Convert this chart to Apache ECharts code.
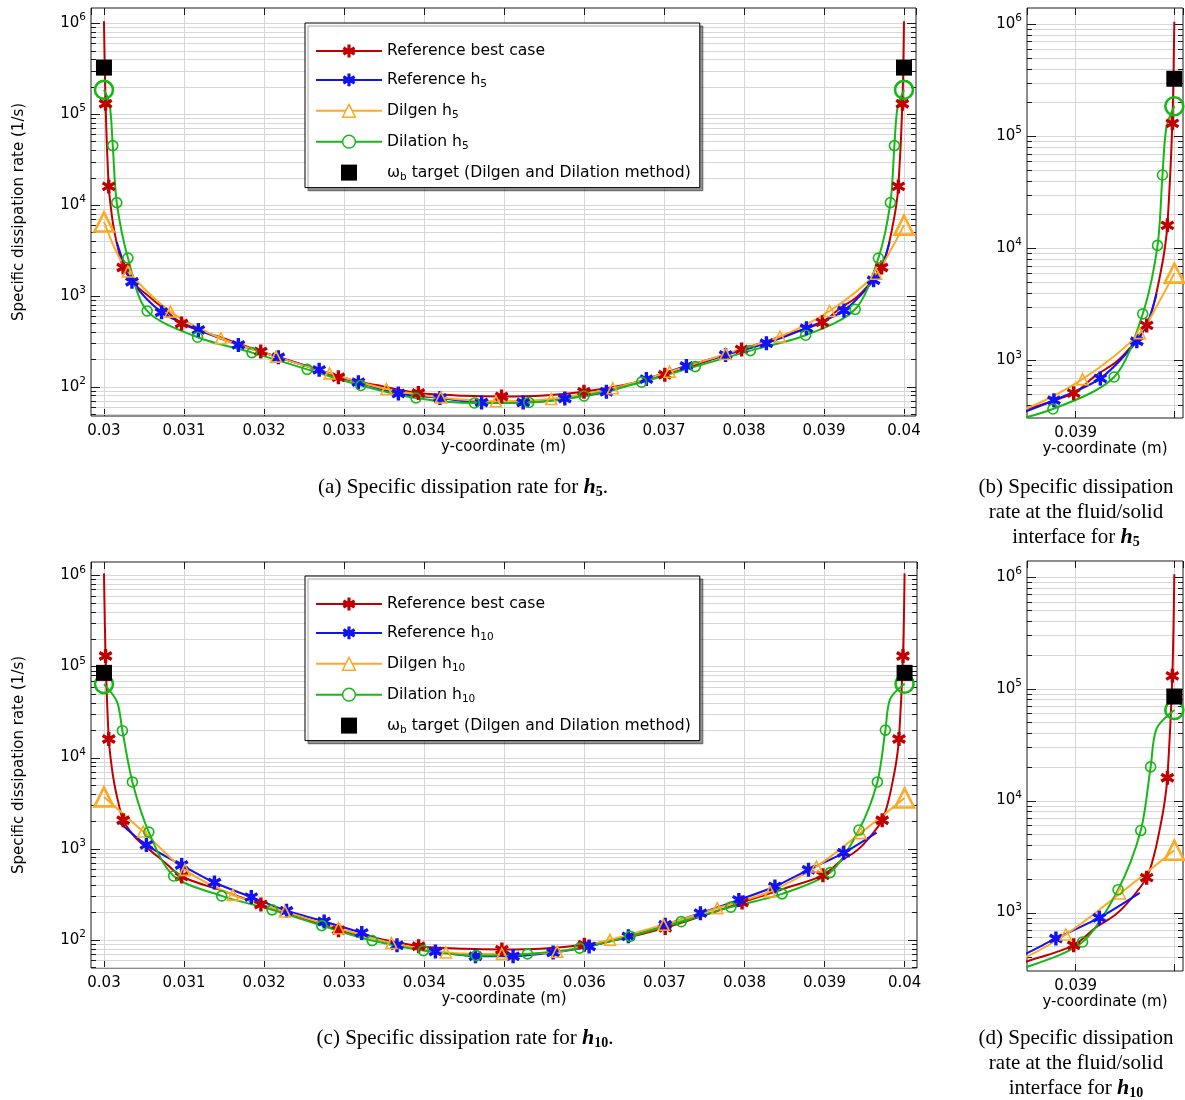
<!DOCTYPE html>
<html>
<head>
<meta charset="utf-8">
<script src="https://cdn.jsdelivr.net/npm/echarts@6/dist/echarts.min.js"></script>
<style>
  html, body { margin: 0; padding: 0; background: #fff; }
  #chart { width: 1185px; height: 1100px; }
</style>
</head>
<body>
<div id="chart"></div>
<script>
// ---- data: [y-coordinate (m), specific dissipation rate (1/s)] ----

// Reference best case (same wall-resolved solution in both rows)
const REF_BEST_MARKS = [
  [0.03002, 1.3e5], [0.03006, 1.6e4], [0.03024, 2.05e3], [0.03097, 495], [0.03196, 244],
  [0.03293, 127], [0.03393, 85], [0.03497, 78], [0.03600, 88], [0.03701, 135],
  [0.03797, 257], [0.03898, 510], [0.03972, 2.05e3], [0.03993, 1.6e4], [0.03998, 1.3e5]
];
const REF_BEST_PATH = [
  [0.03, 1.05e6], [0.03010, 7.5e3], [0.03014, 4.6e3], [0.03018, 3.2e3], [0.0304, 1.3e3],
  [0.03057, 970], [0.03075, 720], [0.0315, 340], [0.0325, 172], [0.0334, 104], [0.0345, 79.5],
  [0.0355, 80], [0.0365, 104], [0.0375, 186], [0.0385, 365], [0.0392, 730], [0.0394, 950],
  [0.03955, 1.29e3], [0.03980, 3.4e3], [0.03986, 6.0e3], [0.03990, 9.5e3], [0.04, 1.05e6]
];

// h5 mesh
const REF_H5_MARKS = [
  [0.03035, 1.43e3], [0.03072, 660], [0.03118, 421], [0.03168, 288], [0.03218, 211],
  [0.03269, 153], [0.03318, 112], [0.03368, 84], [0.03420, 75], [0.03472, 67],
  [0.03524, 67], [0.03576, 74], [0.03628, 88], [0.03678, 121], [0.03728, 169],
  [0.03777, 223], [0.03828, 300], [0.03878, 440], [0.03925, 690], [0.03962, 1.48e3]
];
const REF_H5_PATH = [[0.03016, 3.9e3], [0.03024, 2.4e3], [0.03974, 2.3e3], [0.03982, 3.9e3]];

const DILGEN_H5_MARKS = [
  [0.03, 6.5e3], [0.0303, 1.85e3], [0.03083, 670], [0.03146, 341], [0.03215, 214],
  [0.03282, 140], [0.03353, 94], [0.03421, 76], [0.0349, 69], [0.03559, 73],
  [0.03636, 96], [0.03707, 146], [0.03777, 229], [0.03845, 355], [0.03907, 680],
  [0.03965, 1.75e3], [0.04, 6.0e3]
];
const DILGEN_H5_PATH = [[0.03015, 3.1e3], [0.03986, 3.5e3]];

const DILATION_H5_MARKS = [
  [0.03, 1.85e5], [0.03011, 4.5e4], [0.03016, 1.06e4], [0.0303, 2.6e3], [0.03054, 681],
  [0.03117, 350], [0.03185, 237], [0.03254, 155], [0.03321, 103], [0.0339, 75],
  [0.03463, 66], [0.03531, 67], [0.036, 79], [0.03672, 112], [0.03739, 166],
  [0.03808, 249], [0.03877, 368], [0.03939, 710], [0.03968, 2.6e3], [0.03983, 1.06e4],
  [0.03988, 4.5e4], [0.04, 1.85e5]
];
const DILATION_H5_PATH = [[0.03007, 1.3e5], [0.03992, 1.2e5]];

const TARGET_H5 = [[0.03, 3.25e5], [0.04, 3.25e5]];

// h10 mesh
const REF_H10_MARKS = [
  [0.03053, 1.1e3], [0.03097, 661], [0.03138, 425], [0.03184, 294], [0.03228, 208],
  [0.03275, 159], [0.03322, 119], [0.03366, 87], [0.03414, 74.5], [0.03464, 66],
  [0.03511, 66], [0.03561, 72.6], [0.03606, 84.5], [0.03655, 109], [0.03701, 146],
  [0.03745, 196], [0.03793, 274], [0.03838, 384], [0.0388, 587], [0.03924, 900]
];
const REF_H10_PATH = [[0.030175, 2.0e3], [0.03965, 1.5e3]];

const DILGEN_H10_MARKS = [
  [0.03, 3.7e3], [0.03049, 1.54e3], [0.03101, 585], [0.03161, 311], [0.03226, 204],
  [0.03293, 134], [0.03359, 92], [0.03427, 72.6], [0.03497, 70], [0.03566, 74],
  [0.03632, 100], [0.03699, 146], [0.03766, 222], [0.03832, 339], [0.0389, 637],
  [0.03945, 1.48e3], [0.04, 3.6e3]
];
const DILGEN_H10_PATH = [];

const DILATION_H10_MARKS = [
  [0.03, 6.4e4], [0.03023, 1.97e4], [0.030355, 5.4e3], [0.03056, 1.52e3], [0.03087, 502],
  [0.03147, 303], [0.0321, 213], [0.03272, 143], [0.03335, 98], [0.03399, 76],
  [0.03465, 67], [0.03529, 70], [0.03594, 81], [0.03657, 109], [0.03721, 158],
  [0.03783, 228], [0.03847, 319], [0.03907, 546], [0.03943, 1.6e3], [0.03966, 5.4e3],
  [0.03976, 2.0e4], [0.04, 6.45e4]
];
const DILATION_H10_PATH = [[0.030163, 4.1e4], [0.03982, 4.4e4]];

const TARGET_H10 = [[0.03, 8.5e4], [0.04, 8.5e4]];

// legend / caption texts
const NAME_BEST = 'Reference best case';
const NAME_TARGET = 'ωb target (Dilgen and Dilation method)';
const Y_NAME = 'Specific dissipation rate (1/s)';
const X_NAME = 'y-coordinate (m)';

// ---- styling ----
const FONT = 'DejaVu Sans';
const SERIF = 'Liberation Serif';
const RED = '#c00000', BLUE = '#1212f5', ORANGE = '#ffa922', GREEN = '#16b816';
const GRID_COLOR = '#d6d6d6', FRAME = '#1a1a1a';
// six-armed asterisk: one vertical bar plus two bars at +-60 degrees
const ASTERISK = 'path://M-0.24,-1L0.24,-1L0.24,1L-0.24,1Z' +
  'M0.746,-0.708L0.986,-0.292L-0.746,0.708L-0.986,0.292Z' +
  'M-0.986,-0.292L-0.746,-0.708L0.986,0.292L0.746,0.708Z';
const SQUARE = 'path://M0,0L1,0L1,1L0,1Z';

function curve(marks, extra) {
  return marks.concat(extra).sort((a, b) => a[0] - b[0]);
}
function isEdge(p) { return p[0] <= 0.03 || p[0] >= 0.04; }

function caseSeries(h, refMarks, refPath, dgMarks, dgPath, dlMarks, dlPath, target) {
  return {
    target: target,
    curves: [
      { name: NAME_BEST, marks: REF_BEST_MARKS, path: REF_BEST_PATH, color: RED, symbol: ASTERISK, size: 14, hollow: false, smooth: 0.3 },
      { name: 'Reference h' + h, marks: refMarks, path: refPath, color: BLUE, symbol: ASTERISK, size: 14, hollow: false, smooth: 0.3 },
      { name: 'Dilgen h' + h, marks: dgMarks, path: dgPath, color: ORANGE, symbol: 'triangle', size: 11, big: 19, hollow: true, smooth: 0.3 },
      { name: 'Dilation h' + h, marks: dlMarks, path: dlPath, color: GREEN, symbol: 'circle', size: 10, big: 18, hollow: true, smooth: 0.3 }
    ]
  };
}
const CASE5 = caseSeries('5', REF_H5_MARKS, REF_H5_PATH, DILGEN_H5_MARKS, DILGEN_H5_PATH, DILATION_H5_MARKS, DILATION_H5_PATH, TARGET_H5);
const CASE10 = caseSeries('10', REF_H10_MARKS, REF_H10_PATH, DILGEN_H10_MARKS, DILGEN_H10_PATH, DILATION_H10_MARKS, DILATION_H10_PATH, TARGET_H10);

const PANELS = [
  { grid: { left: 91, top: 8, width: 825, height: 408 }, x: [0.029838, 0.04015], y: [47.5, 1.472e6], full: true, data: CASE5 },
  { grid: { left: 1027, top: 8, width: 156, height: 410 }, x: [0.038507, 0.040088], y: [306, 1.39e6], full: false, data: CASE5 },
  { grid: { left: 91, top: 562, width: 826, height: 406 }, x: [0.029838, 0.040155], y: [49, 1.4e6], full: true, data: CASE10 },
  { grid: { left: 1027, top: 561, width: 156, height: 410 }, x: [0.038507, 0.040088], y: [300.6, 1.38e6], full: false, data: CASE10 }
];

const labelText = { fontFamily: FONT, fontSize: 15, color: '#000' };

function logLabel(v) {
  const e = Math.log10(v), r = Math.round(e);
  return Math.abs(e - r) < 1e-6 ? '{b|10}{e|' + r + '}' : '';
}

// horizontal log grid lines with inward ticks on both sides
function logGridSeries(gi, p) {
  const rows = [];
  const mid = (p.x[0] + p.x[1]) / 2;
  for (let e = 1; e <= 6; e++) {
    for (let k = 1; k <= 9; k++) {
      const v = k * Math.pow(10, e);
      if (v >= p.y[0] && v <= p.y[1]) rows.push([mid, v, k === 1 ? 1 : 0]);
    }
  }
  return {
    type: 'custom', xAxisIndex: gi * 2, yAxisIndex: gi, silent: true, z: 1, clip: false,
    encode: { x: 0, y: 1 },
    data: rows,
    renderItem(params, api) {
      const cs = params.coordSys;
      const y = Math.round(api.coord([api.value(0), api.value(1)])[1]) + 0.5;
      const len = api.value(2) ? 9 : 5;
      const x0 = cs.x, x1 = cs.x + cs.width;
      return {
        type: 'group',
        children: [
          { type: 'line', shape: { x1: x0, y1: y, x2: x1, y2: y }, style: { stroke: GRID_COLOR, lineWidth: 1 } },
          { type: 'line', shape: { x1: x0, y1: y, x2: x0 + len, y2: y }, style: { stroke: FRAME, lineWidth: 1 } },
          { type: 'line', shape: { x1: x1 - len, y1: y, x2: x1, y2: y }, style: { stroke: FRAME, lineWidth: 1 } }
        ]
      };
    }
  };
}

const grids = [], xAxes = [], yAxes = [], series = [];
PANELS.forEach((p, gi) => {
  grids.push(Object.assign({ show: true, borderColor: FRAME, borderWidth: 1, backgroundColor: 'transparent' }, p.grid));
  const split = p.full ? 10 : 2;
  xAxes.push({
    type: 'value', gridIndex: gi, position: 'bottom', min: p.x[0], max: p.x[1], splitNumber: split,
    axisLine: { show: false },
    axisTick: { show: true, inside: true, length: 7, lineStyle: { color: FRAME } },
    splitLine: { show: true, showMinLine: false, showMaxLine: false, lineStyle: { color: GRID_COLOR, width: 1 } },
    axisLabel: Object.assign({
      margin: 8, showMinLabel: false, showMaxLabel: false, hideOverlap: false,
      formatter: v => (!p.full && v > 0.0398) ? '' : String(+v.toFixed(4))
    }, labelText),
    name: X_NAME, nameLocation: 'middle', nameGap: 22, nameTextStyle: labelText
  });
  xAxes.push({
    type: 'value', gridIndex: gi, position: 'top', min: p.x[0], max: p.x[1], splitNumber: split,
    axisLine: { show: false }, splitLine: { show: false }, axisLabel: { show: false },
    axisTick: { show: true, inside: true, length: 7, lineStyle: { color: FRAME } }
  });
  yAxes.push({
    type: 'log', logBase: 10, gridIndex: gi, position: 'left', min: p.y[0], max: p.y[1],
    axisLine: { show: false }, axisTick: { show: false }, splitLine: { show: false }, minorTick: { show: false },
    axisLabel: {
      margin: 5, showMinLabel: false, showMaxLabel: false, hideOverlap: false,
      formatter: logLabel, color: '#000',
      rich: {
        b: { fontFamily: FONT, fontSize: 15, lineHeight: 22, color: '#000' },
        e: { fontFamily: FONT, fontSize: 10.5, lineHeight: 10, verticalAlign: 'top', color: '#000' }
      }
    },
    name: p.full ? Y_NAME : '', nameLocation: 'middle', nameGap: 64, nameTextStyle: labelText
  });

  const axes = { xAxisIndex: gi * 2, yAxisIndex: gi };
  series.push(logGridSeries(gi, p));
  p.data.curves.forEach(s => {
    series.push(Object.assign({
      type: 'line', name: s.name, data: curve(s.marks, s.path),
      showSymbol: false, symbol: s.symbol, symbolSize: s.size,
      smooth: s.smooth,
      lineStyle: { color: s.color, width: 2 },
      itemStyle: { color: s.color },
      z: 2, silent: true
    }, axes));
    const markStyle = s.hollow
      ? { color: 'rgba(255,255,255,0)', borderColor: s.color, borderWidth: 1.6, opacity: 1 }
      : { color: s.color, borderWidth: 0, opacity: 1 };
    series.push(Object.assign({
      type: 'scatter', name: s.name, data: s.marks.filter(q => !isEdge(q)),
      symbol: s.symbol, symbolSize: s.size, itemStyle: markStyle, z: 3, silent: true
    }, axes));
    const edges = s.marks.filter(isEdge);
    if (edges.length) {
      series.push(Object.assign({
        type: 'scatter', name: s.name, data: edges, symbol: s.symbol, symbolSize: s.big,
        itemStyle: Object.assign({}, markStyle, { borderWidth: 2.6 }), z: 3, silent: true
      }, axes));
    }
  });
  series.push(Object.assign({
    type: 'scatter', name: NAME_TARGET, data: p.data.target, symbol: SQUARE, symbolSize: 16,
    itemStyle: { color: '#000', opacity: 1 }, z: 4, silent: true
  }, axes));
});

function legendFormatter(name) {
  const m = name.match(/^(.*) h(\d+)$/);
  if (m) return '{t|' + m[1] + ' h}{s|' + m[2] + '}';
  if (name === NAME_TARGET) return '{t|ω}{s|b}{t|' + name.slice(2) + '}';
  return '{t|' + name + '}';
}
function legendFor(top, h) {
  return {
    orient: 'vertical', left: 305, top: top, selectedMode: false,
    itemWidth: 66, itemHeight: 16, itemGap: 12.9,
    padding: [20, 9, 5, 10],
    backgroundColor: '#fff', borderColor: '#000', borderWidth: 1, borderRadius: 0,
    shadowColor: 'rgba(0,0,0,0.4)', shadowOffsetX: 3, shadowOffsetY: 3, shadowBlur: 1,
    formatter: legendFormatter,
    textStyle: {
      fontFamily: FONT, fontSize: 15.6, color: '#000',
      rich: {
        t: { fontFamily: FONT, fontSize: 15.6, lineHeight: 20, color: '#000' },
        s: { fontFamily: FONT, fontSize: 10.5, lineHeight: 8, verticalAlign: 'bottom', color: '#000' }
      }
    },
    data: [
      { name: NAME_BEST, itemStyle: { borderWidth: 0.6, opacity: 1 } },
      { name: 'Reference h' + h, itemStyle: { borderWidth: 0.6, opacity: 1 } },
      { name: 'Dilgen h' + h, itemStyle: { color: '#fff', borderColor: ORANGE, borderWidth: 1.5, opacity: 1 } },
      { name: 'Dilation h' + h, itemStyle: { color: '#fff', borderColor: GREEN, borderWidth: 1.5, opacity: 1 } },
      { name: NAME_TARGET, itemStyle: { opacity: 1 } }
    ]
  };
}

const capRich = {
  r: { fontFamily: SERIF, fontSize: 21, lineHeight: 25, fill: '#000' },
  h: { fontFamily: SERIF, fontSize: 22, fontStyle: 'italic', fontWeight: 'bold', lineHeight: 25, fill: '#000' },
  s: { fontFamily: SERIF, fontSize: 14, fontWeight: 'bold', lineHeight: 12, verticalAlign: 'bottom', fill: '#000' }
};
function caption(x, y, text) {
  return {
    type: 'text', x: x, y: y, silent: true,
    style: { text: text, align: 'center', verticalAlign: 'middle', rich: capRich, font: '21px ' + SERIF, fill: '#000' }
  };
}

const chart = echarts.init(document.getElementById('chart'), null, { renderer: 'canvas' });
chart.setOption({
  animation: false,
  backgroundColor: '#fff',
  grid: grids,
  xAxis: xAxes,
  yAxis: yAxes,
  legend: [legendFor(23, '5'), legendFor(576, '10')],
  series: series,
  graphic: [
    caption(463, 487, '{r|(a) Specific dissipation rate for }{h|h}{s|5}{r|.}'),
    caption(1076, 512, '{r|(b) Specific dissipation}\n{r|rate at the fluid/solid}\n{r|interface for }{h|h}{s|5}'),
    caption(465, 1038, '{r|(c) Specific dissipation rate for }{h|h}{s|10}{r|.}'),
    caption(1076, 1063, '{r|(d) Specific dissipation}\n{r|rate at the fluid/solid}\n{r|interface for }{h|h}{s|10}')
  ]
});
</script>
</body>
</html>
